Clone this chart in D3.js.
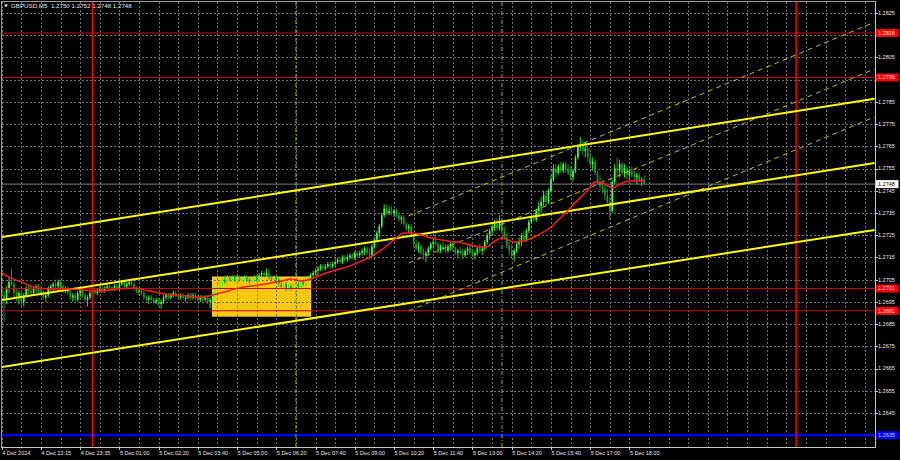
<!DOCTYPE html>
<html><head><meta charset="utf-8">
<script src="https://cdn.jsdelivr.net/npm/d3@7"></script>
<style>html,body{margin:0;padding:0;background:#000;overflow:hidden}</style>
</head><body><svg id="c" width="900" height="460"></svg>
<script>
// ---------------- DATA ----------------
const chartTitle = "GBPUSD,M5  1.2750 1.2752 1.2748 1.2748";
// tick labels every 16 bars, starting at bar 0
const timeLabels = ["4 Dec 2024","4 Dec 22:15","4 Dec 23:35","5 Dec 01:00","5 Dec 02:20","5 Dec 03:40","5 Dec 05:00","5 Dec 06:20","5 Dec 07:40","5 Dec 09:00","5 Dec 10:20","5 Dec 11:40","5 Dec 13:00","5 Dec 14:20","5 Dec 15:40","5 Dec 17:00","5 Dec 18:20"];
const labelEveryBars = 16;
const gridEveryBars = 8;
const barsVisible = 356;
const priceTicks = [1.2645,1.2655,1.2665,1.2675,1.2685,1.2695,1.2705,1.2715,1.2725,1.2735,1.2745,1.2755,1.2765,1.2775,1.2785,1.2795,1.2805,1.2815,1.2825];
// candles [open, high, low, close], M5 bars
const ohlc = [
[1.2701,1.2703,1.2697,1.2698],[1.2698,1.2700,1.2686,1.2696],[1.2696,1.2702,1.2694,1.2701],[1.2701,1.2706,1.2699,1.2704],[1.2704,1.2710,1.2702,1.2703],
[1.2703,1.2705,1.2697,1.2699],[1.2699,1.2701,1.2695,1.2697],[1.2697,1.2700,1.2694,1.2699],[1.2699,1.2700,1.2693,1.2695],[1.2695,1.2699,1.2693,1.2698],
[1.2698,1.2702,1.2697,1.2701],[1.2701,1.2703,1.2698,1.2700],[1.2700,1.2702,1.2698,1.2699],[1.2699,1.2702,1.2698,1.2701],[1.2701,1.2703,1.2699,1.2702],
[1.2702,1.2703,1.2699,1.2700],[1.2700,1.2702,1.2698,1.2699],[1.2699,1.2700,1.2696,1.2697],[1.2697,1.2699,1.2695,1.2698],[1.2698,1.2702,1.2697,1.2701],
[1.2701,1.2703,1.2700,1.2702],[1.2702,1.2704,1.2700,1.2703],[1.2703,1.2705,1.2701,1.2702],[1.2702,1.2705,1.2701,1.2704],[1.2704,1.2705,1.2701,1.2702],
[1.2702,1.2703,1.2699,1.2700],[1.2700,1.2702,1.2699,1.2701],[1.2701,1.2702,1.2698,1.2699],[1.2699,1.2700,1.2696,1.2697],[1.2697,1.2699,1.2695,1.2698],
[1.2698,1.2699,1.2695,1.2696],[1.2696,1.2700,1.2695,1.2699],[1.2699,1.2701,1.2697,1.2700],[1.2700,1.2701,1.2697,1.2698],[1.2698,1.2699,1.2695,1.2696],
[1.2696,1.2698,1.2693,1.2697],[1.2697,1.2700,1.2696,1.2699],[1.2699,1.2701,1.2697,1.2700],[1.2700,1.2701,1.2698,1.2699],[1.2699,1.2701,1.2698,1.2700],
[1.2700,1.2702,1.2699,1.2701],[1.2701,1.2702,1.2699,1.2700],[1.2700,1.2702,1.2699,1.2701],[1.2701,1.2703,1.2700,1.2702],[1.2702,1.2703,1.2700,1.2701],
[1.2701,1.2702,1.2700,1.2701],[1.2701,1.2703,1.2700,1.2702],[1.2702,1.2703,1.2700,1.2701],[1.2701,1.2704,1.2700,1.2703],[1.2703,1.2705,1.2702,1.2704],
[1.2704,1.2705,1.2701,1.2702],[1.2702,1.2704,1.2701,1.2703],[1.2703,1.2705,1.2702,1.2704],[1.2704,1.2706,1.2702,1.2703],[1.2703,1.2706,1.2700,1.2701],
[1.2701,1.2702,1.2699,1.2700],[1.2700,1.2701,1.2698,1.2700],[1.2700,1.2701,1.2698,1.2699],[1.2699,1.2700,1.2696,1.2697],[1.2697,1.2698,1.2695,1.2696],
[1.2696,1.2698,1.2694,1.2697],[1.2697,1.2698,1.2695,1.2696],[1.2696,1.2697,1.2694,1.2695],[1.2695,1.2697,1.2694,1.2696],[1.2696,1.2697,1.2693,1.2694],
[1.2694,1.2696,1.2692,1.2695],[1.2695,1.2698,1.2694,1.2697],[1.2697,1.2699,1.2696,1.2698],[1.2698,1.2699,1.2696,1.2697],[1.2697,1.2699,1.2696,1.2698],
[1.2698,1.2700,1.2697,1.2699],[1.2699,1.2700,1.2697,1.2698],[1.2698,1.2699,1.2696,1.2697],[1.2697,1.2699,1.2696,1.2698],[1.2698,1.2699,1.2696,1.2697],
[1.2697,1.2698,1.2695,1.2697],[1.2697,1.2699,1.2696,1.2698],[1.2698,1.2699,1.2696,1.2697],[1.2697,1.2699,1.2696,1.2698],[1.2698,1.2699,1.2696,1.2697],
[1.2697,1.2698,1.2695,1.2696],[1.2696,1.2698,1.2695,1.2697],[1.2697,1.2698,1.2695,1.2696],[1.2696,1.2698,1.2695,1.2697],[1.2697,1.2698,1.2694,1.2695],
[1.2695,1.2697,1.2692,1.2696],[1.2696,1.2699,1.2695,1.2698],[1.2698,1.2701,1.2697,1.2700],[1.2700,1.2703,1.2699,1.2702],[1.2702,1.2704,1.2700,1.2703],
[1.2703,1.2706,1.2702,1.2705],[1.2705,1.2707,1.2703,1.2704],[1.2704,1.2707,1.2703,1.2706],[1.2706,1.2707,1.2704,1.2705],[1.2705,1.2707,1.2704,1.2706],
[1.2706,1.2707,1.2704,1.2705],[1.2705,1.2707,1.2704,1.2706],[1.2706,1.2707,1.2704,1.2705],[1.2705,1.2706,1.2704,1.2705],[1.2705,1.2707,1.2704,1.2706],
[1.2706,1.2707,1.2704,1.2705],[1.2705,1.2706,1.2703,1.2704],[1.2704,1.2706,1.2703,1.2705],[1.2705,1.2707,1.2704,1.2706],[1.2706,1.2707,1.2704,1.2705],
[1.2705,1.2708,1.2704,1.2707],[1.2707,1.2709,1.2706,1.2708],[1.2708,1.2709,1.2706,1.2707],[1.2707,1.2710,1.2706,1.2708],[1.2708,1.2710,1.2705,1.2706],
[1.2706,1.2707,1.2704,1.2705],[1.2705,1.2707,1.2704,1.2706],[1.2706,1.2707,1.2704,1.2705],[1.2705,1.2706,1.2702,1.2703],[1.2703,1.2705,1.2701,1.2702],
[1.2702,1.2704,1.2701,1.2703],[1.2703,1.2704,1.2700,1.2701],[1.2701,1.2703,1.2700,1.2702],[1.2702,1.2703,1.2700,1.2701],[1.2701,1.2703,1.2700,1.2702],
[1.2702,1.2704,1.2701,1.2703],[1.2703,1.2704,1.2701,1.2702],[1.2702,1.2705,1.2701,1.2704],[1.2704,1.2705,1.2702,1.2703],[1.2703,1.2706,1.2702,1.2705],
[1.2705,1.2707,1.2704,1.2706],[1.2706,1.2708,1.2705,1.2707],[1.2707,1.2709,1.2706,1.2708],[1.2708,1.2710,1.2707,1.2709],[1.2709,1.2711,1.2707,1.2710],
[1.2710,1.2712,1.2709,1.2711],[1.2711,1.2712,1.2709,1.2710],[1.2710,1.2712,1.2709,1.2711],[1.2711,1.2713,1.2710,1.2712],[1.2712,1.2713,1.2710,1.2711],
[1.2711,1.2713,1.2710,1.2712],[1.2712,1.2714,1.2711,1.2713],[1.2713,1.2715,1.2712,1.2714],[1.2714,1.2715,1.2712,1.2713],[1.2713,1.2716,1.2712,1.2715],
[1.2715,1.2716,1.2713,1.2714],[1.2714,1.2716,1.2713,1.2715],[1.2715,1.2717,1.2714,1.2716],[1.2716,1.2717,1.2714,1.2715],[1.2715,1.2718,1.2714,1.2717],
[1.2717,1.2718,1.2715,1.2716],[1.2716,1.2718,1.2715,1.2717],[1.2717,1.2719,1.2716,1.2718],[1.2718,1.2720,1.2716,1.2719],[1.2719,1.2720,1.2716,1.2717],
[1.2717,1.2719,1.2714,1.2716],[1.2716,1.2721,1.2715,1.2720],[1.2720,1.2724,1.2719,1.2723],[1.2723,1.2727,1.2722,1.2726],[1.2726,1.2730,1.2724,1.2729],
[1.2729,1.2735,1.2728,1.2734],[1.2734,1.2739,1.2733,1.2737],[1.2737,1.2739,1.2734,1.2735],[1.2735,1.2738,1.2734,1.2736],[1.2736,1.2738,1.2734,1.2735],
[1.2735,1.2737,1.2733,1.2736],[1.2736,1.2737,1.2733,1.2734],[1.2734,1.2735,1.2731,1.2732],[1.2732,1.2734,1.2730,1.2733],[1.2733,1.2734,1.2729,1.2730],
[1.2730,1.2731,1.2727,1.2728],[1.2728,1.2730,1.2726,1.2729],[1.2729,1.2730,1.2724,1.2725],[1.2725,1.2726,1.2720,1.2721],[1.2721,1.2723,1.2718,1.2719],
[1.2719,1.2722,1.2717,1.2720],[1.2720,1.2721,1.2716,1.2717],[1.2717,1.2719,1.2714,1.2716],[1.2716,1.2718,1.2713,1.2717],[1.2717,1.2720,1.2716,1.2719],
[1.2719,1.2722,1.2718,1.2721],[1.2721,1.2724,1.2719,1.2722],[1.2722,1.2727,1.2720,1.2721],[1.2721,1.2722,1.2717,1.2718],[1.2718,1.2721,1.2717,1.2720],
[1.2720,1.2722,1.2718,1.2719],[1.2719,1.2721,1.2717,1.2718],[1.2718,1.2721,1.2717,1.2720],[1.2720,1.2722,1.2718,1.2721],[1.2721,1.2722,1.2718,1.2719],
[1.2719,1.2720,1.2716,1.2717],[1.2717,1.2719,1.2715,1.2718],[1.2718,1.2720,1.2716,1.2717],[1.2717,1.2719,1.2714,1.2716],[1.2716,1.2719,1.2715,1.2718],
[1.2718,1.2720,1.2716,1.2719],[1.2719,1.2721,1.2716,1.2717],[1.2717,1.2719,1.2715,1.2716],[1.2716,1.2718,1.2714,1.2717],[1.2717,1.2720,1.2716,1.2719],
[1.2719,1.2721,1.2717,1.2718],[1.2718,1.2720,1.2716,1.2719],[1.2719,1.2723,1.2718,1.2722],[1.2722,1.2726,1.2721,1.2725],[1.2725,1.2728,1.2723,1.2727],
[1.2727,1.2731,1.2725,1.2729],[1.2729,1.2732,1.2727,1.2730],[1.2730,1.2733,1.2727,1.2728],[1.2728,1.2734,1.2727,1.2731],[1.2731,1.2732,1.2726,1.2727],
[1.2727,1.2729,1.2723,1.2724],[1.2724,1.2726,1.2719,1.2720],[1.2720,1.2722,1.2716,1.2718],[1.2718,1.2721,1.2715,1.2716],[1.2716,1.2719,1.2713,1.2718],
[1.2718,1.2722,1.2717,1.2721],[1.2721,1.2724,1.2719,1.2722],[1.2722,1.2726,1.2720,1.2725],[1.2725,1.2727,1.2722,1.2723],[1.2723,1.2728,1.2722,1.2727],
[1.2727,1.2732,1.2726,1.2731],[1.2731,1.2734,1.2730,1.2733],[1.2733,1.2735,1.2731,1.2732],[1.2732,1.2737,1.2731,1.2736],[1.2736,1.2740,1.2734,1.2738],
[1.2738,1.2742,1.2735,1.2740],[1.2740,1.2745,1.2738,1.2743],[1.2743,1.2745,1.2738,1.2740],[1.2740,1.2746,1.2739,1.2745],[1.2745,1.2752,1.2744,1.2750],
[1.2750,1.2757,1.2749,1.2755],[1.2755,1.2757,1.2751,1.2753],[1.2753,1.2757,1.2752,1.2756],[1.2756,1.2758,1.2753,1.2754],[1.2754,1.2758,1.2753,1.2757],
[1.2757,1.2758,1.2753,1.2755],[1.2755,1.2757,1.2752,1.2753],[1.2753,1.2756,1.2750,1.2751],[1.2751,1.2755,1.2749,1.2754],[1.2754,1.2761,1.2753,1.2760],
[1.2760,1.2766,1.2759,1.2765],[1.2765,1.2769,1.2763,1.2766],[1.2766,1.2768,1.2761,1.2763],[1.2763,1.2767,1.2760,1.2764],[1.2764,1.2765,1.2758,1.2760],
[1.2760,1.2762,1.2756,1.2757],[1.2757,1.2760,1.2754,1.2758],[1.2758,1.2759,1.2752,1.2753],[1.2753,1.2754,1.2748,1.2749],[1.2749,1.2752,1.2745,1.2747],
[1.2747,1.2750,1.2744,1.2746],[1.2746,1.2748,1.2741,1.2743],[1.2743,1.2746,1.2738,1.2740],[1.2740,1.2742,1.2732,1.2736],[1.2736,1.2750,1.2735,1.2749],
[1.2749,1.2757,1.2748,1.2755],[1.2755,1.2760,1.2752,1.2754],[1.2754,1.2759,1.2751,1.2757],[1.2757,1.2758,1.2752,1.2753],[1.2753,1.2757,1.2751,1.2755],
[1.2755,1.2756,1.2750,1.2752],[1.2752,1.2755,1.2750,1.2754],[1.2754,1.2756,1.2751,1.2752],[1.2752,1.2754,1.2749,1.2751],[1.2751,1.2753,1.2748,1.2752],
[1.2752,1.2753,1.2749,1.2750],[1.2750,1.2751,1.2747,1.2750],[1.2750,1.2752,1.2748,1.2748]
];
// moving average (bar index, value)
const maPoints = [[0,1.2708],[3,1.2706],[8,1.2704],[12,1.2702],[16,1.2701],[20,1.27008],[27,1.27008],[33,1.27004],[40,1.26999],[47,1.27008],[54,1.27013],[58,1.27004],[62,1.26995],[66,1.26986],[70,1.26981],[76,1.26977],[81,1.26972],[89,1.2699],[97,1.27013],[105,1.27026],[114,1.27044],[118,1.27053],[122,1.27044],[126,1.27053],[130,1.27071],[135,1.27089],[142,1.27112],[146,1.2713],[151,1.27157],[156,1.27193],[160,1.27229],[164,1.2726],[168,1.2726],[171,1.27251],[175,1.27238],[182,1.27224],[188,1.27215],[195,1.27197],[198,1.27197],[200,1.27215],[204,1.27238],[209,1.2722],[213,1.27224],[217,1.27242],[224,1.27287],[229,1.27341],[233,1.27386],[239,1.27454],[242,1.2749],[245,1.27485],[249,1.27463],[252,1.2748],[256,1.27494],[262,1.27494]];
// horizontal levels
const redLevels = [1.2816, 1.2796, 1.2701, 1.2691];
const blueLevel = 1.2635;
const bidPrice = 1.2748;
// vertical markers (bar index)
const dayBreaks = [37, 324];
const sessionMarks = [120, 204];
// highlighted zone
const zone = {i0: 86, i1: 126, top: 1.27062, bottom: 1.26886};
// trend channel (solid) [i0, p0, i1, p1]
const trendLines = [[0,1.27242,356,1.27864],[0,1.26958,356,1.27575],[0,1.26657,356,1.27274]];
// regression channel (dashed)
const regLines = [[166,1.27337,356,1.28209],[166,1.27125,356,1.27998],[166,1.26909,356,1.27782]];

// ---------------- DRAW ----------------
const svg = d3.select("#c");
const L = 2, T = 2, R = 875, B = 447;
const x = d3.scaleLinear().domain([0, barsVisible]).range([1.7, 1.7 + barsVisible * 2.452]);
const y = d3.scaleLinear().domain([1.2645, 1.2825]).range([413, 13]);
const font = "'Liberation Sans', Arial, sans-serif";

svg.append("rect").attr("width", 900).attr("height", 460).attr("fill", "#000");
svg.append("defs").append("clipPath").attr("id", "clip")
  .append("rect").attr("x", L).attr("y", T).attr("width", R - L).attr("height", B - T);
const g = svg.append("g").attr("clip-path", "url(#clip)");

// zone (background object)
g.append("rect").attr("x", x(zone.i0)).attr("y", y(zone.top))
  .attr("width", x(zone.i1) - x(zone.i0)).attr("height", y(zone.bottom) - y(zone.top))
  .attr("fill", "#f9c80e").attr("stroke", "#ffdc3c").attr("stroke-width", 1);

// grid
const gridColor = "#707070";
g.selectAll(".hg").data(priceTicks).join("line")
  .attr("x1", L).attr("x2", R).attr("y1", d => Math.round(y(d)) + 0.5).attr("y2", d => Math.round(y(d)) + 0.5)
  .attr("stroke", gridColor).attr("stroke-width", 1).attr("stroke-dasharray", "2,2");
g.selectAll(".vg").data(d3.range(0, barsVisible, gridEveryBars)).join("line")
  .attr("x1", d => Math.round(x(d)) + 0.5).attr("x2", d => Math.round(x(d)) + 0.5).attr("y1", T).attr("y2", B)
  .attr("stroke", gridColor).attr("stroke-width", 1).attr("stroke-dasharray", "2,2");

// candles
const bw = 1.6;
const cg = g.append("g");
cg.selectAll(".wick").data(ohlc).join("line")
  .attr("x1", (d, i) => x(i)).attr("x2", (d, i) => x(i))
  .attr("y1", d => y(d[1])).attr("y2", d => y(d[2]))
  .attr("stroke", d => d[3] >= d[0] ? "#39f039" : "#1f9d1f").attr("stroke-width", 0.9);
cg.selectAll(".body").data(ohlc).join("rect")
  .attr("x", (d, i) => x(i) - bw / 2).attr("width", bw)
  .attr("y", d => y(Math.max(d[0], d[3])))
  .attr("height", d => Math.max(1, Math.abs(y(d[0]) - y(d[3]))))
  .attr("fill", d => d[3] >= d[0] ? "#45ff45" : "#1f9d1f");

// horizontal levels
g.selectAll(".rl").data(redLevels).join("line")
  .attr("x1", L).attr("x2", R).attr("y1", d => y(d)).attr("y2", d => y(d))
  .attr("stroke", "#c40000").attr("stroke-width", 1.1);
g.append("line").attr("x1", L).attr("x2", R).attr("y1", y(blueLevel)).attr("y2", y(blueLevel))
  .attr("stroke", "#0000ff").attr("stroke-width", 2.2);
g.append("line").attr("x1", L).attr("x2", R).attr("y1", y(bidPrice)).attr("y2", y(bidPrice))
  .attr("stroke", "#808080").attr("stroke-width", 1);

// vertical markers
g.selectAll(".db").data(dayBreaks).join("line")
  .attr("x1", d => x(d)).attr("x2", d => x(d)).attr("y1", T).attr("y2", B)
  .attr("stroke", "#ff0000").attr("stroke-width", 1.5);
g.selectAll(".sm").data(sessionMarks).join("line")
  .attr("x1", d => x(d)).attr("x2", d => x(d)).attr("y1", T).attr("y2", B)
  .attr("stroke", "#5cc000").attr("stroke-width", 1.1).attr("stroke-dasharray", "4,2,1,2");

// channels
g.selectAll(".tl").data(trendLines).join("line")
  .attr("x1", d => x(d[0])).attr("y1", d => y(d[1])).attr("x2", d => x(d[2])).attr("y2", d => y(d[3]))
  .attr("stroke", "#ffff00").attr("stroke-width", 2);
g.selectAll(".rg").data(regLines).join("line")
  .attr("x1", d => x(d[0])).attr("y1", d => y(d[1])).attr("x2", d => x(d[2])).attr("y2", d => y(d[3]))
  .attr("stroke", "#c4c000").attr("stroke-width", 1).attr("stroke-dasharray", "5,4");

// MA
g.append("path").datum(maPoints)
  .attr("d", d3.line().x(d => x(d[0])).y(d => y(d[1])).curve(d3.curveMonotoneX))
  .attr("fill", "none").attr("stroke", "#ff1a1a").attr("stroke-width", 1.5);

// frame / axes
svg.append("line").attr("x1", 1.5).attr("x2", 1.5).attr("y1", 1).attr("y2", B).attr("stroke", "#9a9a9a");
svg.append("line").attr("x1", 1).attr("x2", R).attr("y1", 1.5).attr("y2", 1.5).attr("stroke", "#9a9a9a");
svg.append("line").attr("x1", R + 0.5).attr("x2", R + 0.5).attr("y1", 1).attr("y2", B + 1).attr("stroke", "#c8c8c8");
svg.append("line").attr("x1", 1).attr("x2", R + 1).attr("y1", B + 0.5).attr("y2", B + 0.5).attr("stroke", "#c8c8c8");

const fs = 5.5;
// level label boxes hide the regular tick labels they cover (as in the terminal)
const boxLevels = redLevels.concat([blueLevel, bidPrice]);
const shownTicks = priceTicks.filter(t => boxLevels.every(p => Math.abs(y(p) - y(t)) > 6));
svg.selectAll(".yt").data(priceTicks).join("line")
  .attr("x1", R).attr("x2", R + 3).attr("y1", d => Math.round(y(d)) + 0.5).attr("y2", d => Math.round(y(d)) + 0.5)
  .attr("stroke", "#c8c8c8");
svg.selectAll(".yl").data(shownTicks).join("text")
  .attr("x", R + 3).attr("y", d => y(d)).attr("dy", "0.35em")
  .attr("font-family", font).attr("font-size", fs).attr("fill", "#e6e6e6")
  .text(d => d.toFixed(4));
// x labels
const labelIdx = timeLabels.map((t, i) => i * labelEveryBars);
svg.selectAll(".xt").data(labelIdx).join("line")
  .attr("x1", d => Math.round(x(d)) + 0.5).attr("x2", d => Math.round(x(d)) + 0.5).attr("y1", B).attr("y2", B + 3)
  .attr("stroke", "#c8c8c8");
svg.selectAll(".xl").data(timeLabels).join("text")
  .attr("x", (d, i) => x(labelIdx[i]) + 0.5).attr("y", 455)
  .attr("font-family", font).attr("font-size", fs).attr("fill", "#e6e6e6")
  .text(d => d);

// price label boxes
function priceBox(p, fill, txt) {
  const gy = y(p);
  svg.append("rect").attr("x", R + 1).attr("y", gy - 4).attr("width", 22.5).attr("height", 8).attr("fill", fill);
  svg.append("text").attr("x", R + 3).attr("y", gy).attr("dy", "0.35em")
    .attr("font-family", font).attr("font-size", fs).attr("fill", txt).text(p.toFixed(4));
}
redLevels.forEach(p => priceBox(p, "#ff0000", "#ffe0e0"));
priceBox(blueLevel, "#0000ff", "#d0d8ff");
priceBox(bidPrice, "#ffffff", "#000000");

// title
svg.append("path").attr("d", "M4,4.5 L8,4.5 L6,7.5 Z").attr("fill", "#e6e6e6");
svg.append("text").attr("x", 11).attr("y", 8.4).attr("xml:space", "preserve")
  .attr("font-family", font).attr("font-size", 6.2).attr("fill", "#e6e6e6").text(chartTitle);
</script></body></html>
